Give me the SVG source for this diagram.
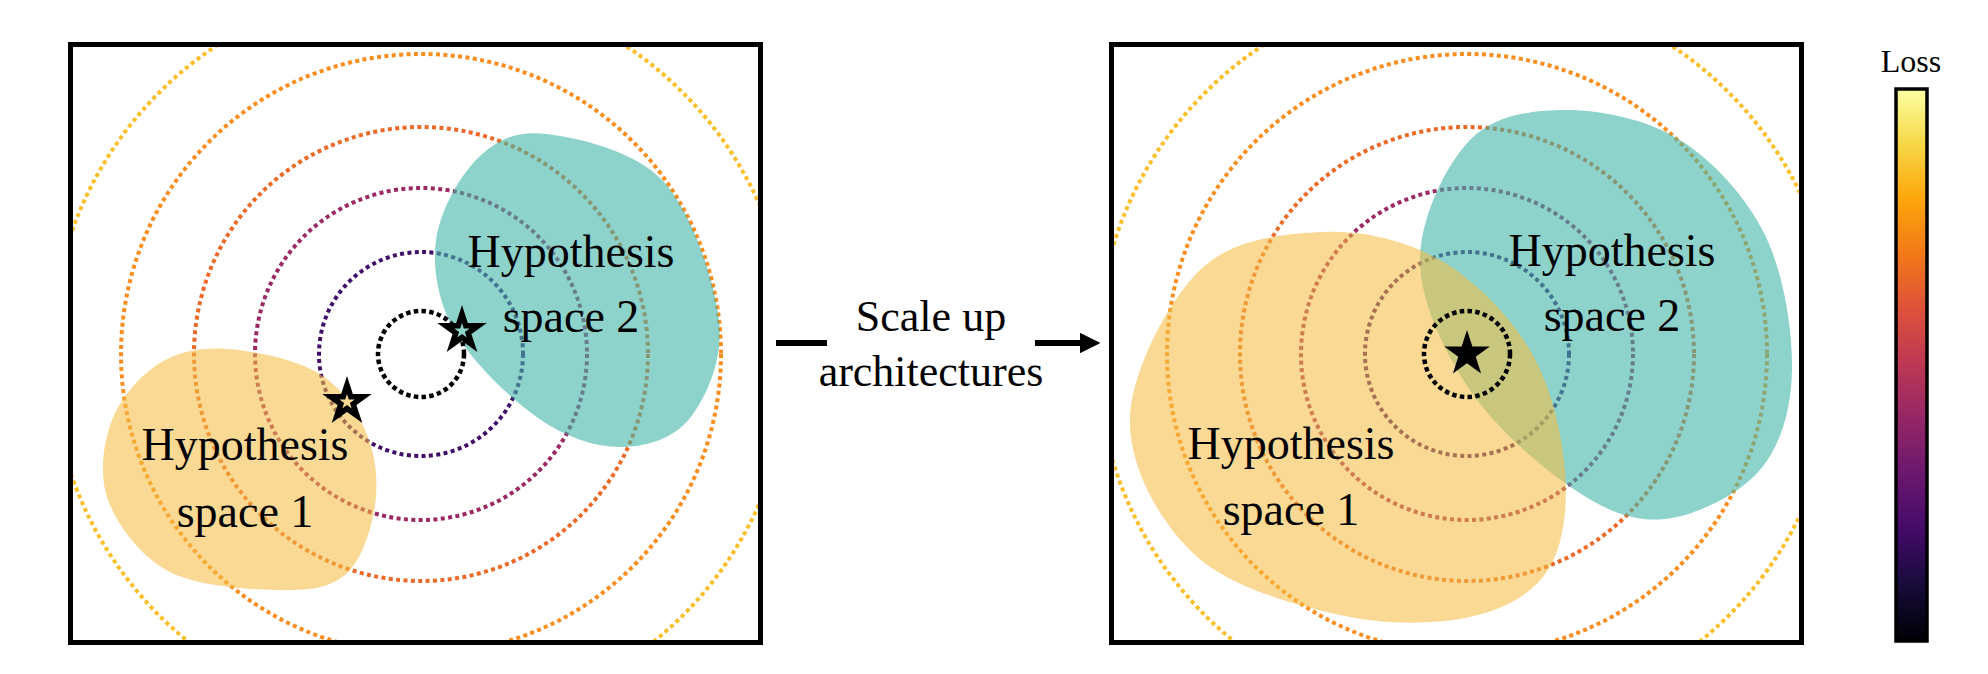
<svg xmlns="http://www.w3.org/2000/svg" width="1988" height="674" viewBox="0 0 1988 674">
<style>
.frame{fill:none;stroke:#000;stroke-width:5}
.ring{fill:none;stroke-width:4;stroke-dasharray:4 3.4}
.r0{stroke:#000004;stroke-width:4.5;stroke-dasharray:4.5 3.3}
.r1{stroke:#410f6a}
.r2{stroke:#9b2964}
.r3{stroke:#eb6a28}
.r4{stroke:#f98e1e}
.r5{stroke:#fbbf2a}
.teal{fill:#42b5a8;fill-opacity:0.6}
.yel{fill:#f6bd43;fill-opacity:0.57}
.lbl{font-family:"Liberation Serif","DejaVu Serif",serif;font-size:46px;fill:#000;text-anchor:middle}
.mid{font-family:"Liberation Serif","DejaVu Serif",serif;font-size:44px;fill:#000;text-anchor:middle}
.star-o{stroke:#000;stroke-linejoin:miter;stroke-miterlimit:10}
</style>
<defs>
<clipPath id="clipL"><rect x="70" y="44" width="691" height="599"/></clipPath>
<clipPath id="clipR"><rect x="1111" y="44" width="691" height="599"/></clipPath>
<g id="rings">
<circle class="ring r1" r="102"/>
<circle class="ring r2" r="166"/>
<circle class="ring r3" r="227"/>
<circle class="ring r4" r="300"/>
<circle class="ring r5" r="370"/>
</g>
<circle id="ring0" class="ring r0" r="43"/>
<polygon id="star" points="0,-1 0.2245,-0.309 0.9511,-0.309 0.3633,0.118 0.5878,0.809 0,0.382 -0.5878,0.809 -0.3633,0.118 -0.9511,-0.309 -0.2245,-0.309"/>
<marker id="ah" viewBox="0 0 10 10" refX="0" refY="5" markerWidth="3.4" markerHeight="3.4" orient="auto" markerUnits="strokeWidth">
<path d="M0,0 L10,5 L0,10 Z" fill="#000"/>
</marker>
<linearGradient id="inferno" x1="0" y1="0" x2="0" y2="1">
<stop offset="0" stop-color="#fcffa4"/>
<stop offset="0.1" stop-color="#f6d746"/>
<stop offset="0.2" stop-color="#fca50a"/>
<stop offset="0.3" stop-color="#f37819"/>
<stop offset="0.4" stop-color="#dd513a"/>
<stop offset="0.5" stop-color="#bc3754"/>
<stop offset="0.6" stop-color="#932667"/>
<stop offset="0.7" stop-color="#6a176e"/>
<stop offset="0.8" stop-color="#420a68"/>
<stop offset="0.9" stop-color="#160b39"/>
<stop offset="1" stop-color="#000004"/>
</linearGradient>
</defs>
<rect width="1988" height="674" fill="#fff"/>

<g id="panel-left">
<g clip-path="url(#clipL)">
<use href="#rings" x="421" y="354"/>
<path id="left-space2" class="teal" d="M546 134 C576.8 137.8 634.2 150 663 181 C691.8 212 714.5 280.5 719 320 C723.5 359.5 706.5 396.8 690 418 C673.5 439.2 645.3 447 620 447 C594.7 447 565.5 437.2 538 418 C510.5 398.8 472 361.7 455 332 C438 302.3 432.2 269 436 240 C439.8 211 459.7 175.7 478 158 C496.3 140.3 515.2 130.2 546 134 Z"/>
<path id="left-space1" class="yel" d="M227 349 C253.3 350.7 294.8 359.2 318 373 C341.2 386.8 356.5 410 366 432 C375.5 454 378.5 481.2 375 505 C371.5 528.8 361.7 560.8 345 575 C328.3 589.2 304.5 590.7 275 590 C245.5 589.3 195.8 586 168 571 C140.2 556 117.3 525.2 108 500 C98.7 474.8 103.3 442.8 112 420 C120.7 397.2 140.8 374.8 160 363 C179.2 351.2 200.7 347.3 227 349 Z"/>
<use href="#ring0" x="421" y="354"/>
</g>
<use href="#star" class="star-o" fill="#8fd3c9" transform="translate(462,331) scale(17)" style="stroke-width:0.33"/>
<use href="#star" class="star-o" fill="#f9d992" transform="translate(347,402) scale(17)" style="stroke-width:0.33"/>
<text class="lbl" x="571" y="267">Hypothesis</text>
<text class="lbl" x="571" y="332">space 2</text>
<text class="lbl" x="245" y="460">Hypothesis</text>
<text class="lbl" x="245" y="527">space 1</text>
<rect class="frame" x="70.5" y="44.5" width="690" height="598"/>
</g>

<g id="label-middle">
<text class="mid" x="931" y="331">Scale up</text>
<text class="mid" x="931" y="386">architectures</text>
</g>

<g id="panel-right">
<g clip-path="url(#clipR)">
<use href="#rings" x="1467" y="354"/>
<path id="right-space2" class="teal" d="M1566 110 C1601 110 1646.8 119.2 1680 140 C1713.2 160.8 1746.3 196.7 1765 235 C1783.7 273.3 1792.8 330.8 1792 370 C1791.2 409.2 1781.2 445.2 1760 470 C1738.8 494.8 1695.8 515.7 1665 519 C1634.2 522.3 1607.5 511.5 1575 490 C1542.5 468.5 1495.8 428.3 1470 390 C1444.2 351.7 1420 301.7 1420 260 C1420 218.3 1445.7 165 1470 140 C1494.3 115 1531 110 1566 110 Z"/>
<path id="right-space1" class="yel" d="M1323 232 C1363 230.3 1405.5 240.3 1440 260 C1474.5 279.7 1509.2 315 1530 350 C1550.8 385 1562 433.3 1565 470 C1568 506.7 1563.8 545.5 1548 570 C1532.2 594.5 1504.7 609.5 1470 617 C1435.3 624.5 1385.8 625.3 1340 615 C1294.2 604.7 1230 587.5 1195 555 C1160 522.5 1129.2 467.5 1130 420 C1130.8 372.5 1167.8 301.3 1200 270 C1232.2 238.7 1283 233.7 1323 232 Z"/>
<use href="#ring0" x="1467" y="354"/>
</g>
<use href="#star" fill="#000" transform="translate(1467,354) scale(24)"/>
<text class="lbl" x="1612" y="266">Hypothesis</text>
<text class="lbl" x="1612" y="331">space 2</text>
<text class="lbl" x="1291" y="459">Hypothesis</text>
<text class="lbl" x="1291" y="525">space 1</text>
<rect class="frame" x="1111.5" y="44.5" width="690" height="598"/>
</g>

<g id="colorbar">
<text x="1911" y="72" font-family="Liberation Serif, DejaVu Serif, serif" font-size="32" text-anchor="middle">Loss</text>
<rect x="1896" y="89" width="31" height="552" fill="url(#inferno)" stroke="#000" stroke-width="3.5"/>
</g>

<g id="connectors">
<line x1="776" y1="343" x2="827" y2="343" stroke="#000" stroke-width="6"/>
<line x1="1035" y1="343" x2="1080" y2="343" stroke="#000" stroke-width="6" marker-end="url(#ah)"/>
</g>
</svg>
